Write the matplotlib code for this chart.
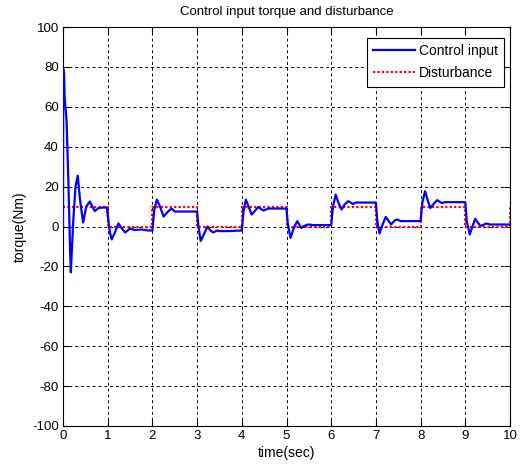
import matplotlib
matplotlib.use("Agg")
import matplotlib.pyplot as plt

t_ctrl = [0, 0.005, 0.025, 0.035, 0.08, 0.12, 0.16, 0.175, 0.23, 0.28, 0.33, 0.38, 0.45, 0.52, 0.60, 0.71, 0.80, 0.90, 0.98,
          1.01, 1.05, 1.09, 1.16, 1.24, 1.32, 1.39, 1.5, 1.6, 1.75, 1.9, 2.0,
          2.04, 2.1, 2.17, 2.25, 2.35, 2.43, 2.5, 2.6, 3.0,
          3.03, 3.08, 3.15, 3.23, 3.3, 3.36, 3.45, 3.5, 3.7, 4.0,
          4.04, 4.09, 4.15, 4.22, 4.3, 4.37, 4.48, 4.6, 5.0,
          5.03, 5.09, 5.16, 5.24, 5.33, 5.4, 5.48, 5.6, 6.0,
          6.04, 6.1, 6.16, 6.23, 6.3, 6.38, 6.49, 6.55, 7.0,
          7.03, 7.08, 7.15, 7.22, 7.34, 7.42, 7.48, 7.55, 8.0,
          8.04, 8.1, 8.16, 8.22, 8.3, 8.37, 8.47, 8.55, 9.0,
          9.03, 9.1, 9.16, 9.22, 9.34, 9.47, 9.55, 10.0]
u_ctrl = [0, 79, 77, 65, 53, 23, -13, -23, 3, 20, 25.5, 13.5, 2, 10, 12.5, 7.7, 9.3, 9.5, 9.5,
          4, -3, -6.5, -3, 1.5, -1, -3, -1, -1.8, -1.5, -2, -2,
          8, 13.5, 10, 5, 7.5, 9, 7.5, 7.5, 7.5,
          0, -7.3, -4, 0, -2, -3, -2, -2.3, -2.3, -2,
          8, 13.5, 10, 6, 8, 9.8, 8, 9, 9,
          1, -5.7, -1, 2.7, -0.7, 0.3, 1, 0.7, 0.7,
          10, 16, 12, 8.5, 11, 12.7, 11.3, 12, 12,
          3, -3.5, 1, 4.8, 1, 3, 3.5, 2.7, 2.7,
          12, 17.7, 13, 9.3, 11.5, 13.2, 11.8, 12.2, 12.2,
          3, -4, 0, 3.8, 0.2, 1.5, 1, 1]

t_dist = [0, 1, 2, 3, 4, 5, 6, 7, 8, 9, 10]
d_dist = [10, 0, 10, 0, 10, 0, 10, 0, 10, 0, 10]

x_ticks = list(range(0, 11))
y_ticks = list(range(-100, 101, 20))

plt.rcParams['font.family'] = ['Liberation Sans', 'DejaVu Sans']
plt.rcParams['axes.unicode_minus'] = False

fig = plt.figure(figsize=(5.21, 4.72), dpi=100)
ax = fig.add_axes([63/521, 1-426/472, (510-63)/521, (426-27)/472])

ax.plot(t_ctrl, u_ctrl, color='#0000ff', lw=1.6, label='Control input', zorder=3)
ax.plot(t_dist, d_dist, color='#ff0000', lw=1.6, ls=(0, (1, 1)), drawstyle='steps-post',
        label='Disturbance', zorder=2)

ax.set_xlim(0, 10)
ax.set_ylim(-100, 100)
ax.set_xticks(x_ticks)
ax.set_yticks(y_ticks)
ax.tick_params(direction='in', top=True, right=True, labelsize=9.5, length=4, width=0.8, pad=3)
ax.grid(True, color='black', ls=(0, (3, 3)), lw=0.7)
for s in ax.spines.values():
    s.set_linewidth(0.8)

ax.set_title('Control input torque and disturbance', fontsize=9.5, pad=9)
ax.set_xlabel('time(sec)', fontsize=10, labelpad=3)
ax.set_ylabel('torque(Nm)', fontsize=10, labelpad=4)

leg = ax.legend(loc='upper right', bbox_to_anchor=(0.987, 0.973), fontsize=10, fancybox=False,
                edgecolor='black', framealpha=1, handlelength=3.0, borderpad=0.45, labelspacing=0.6,
                handletextpad=0.3, borderaxespad=0)
leg.get_frame().set_linewidth(0.8)

fig.savefig('out.png', dpi=100)
